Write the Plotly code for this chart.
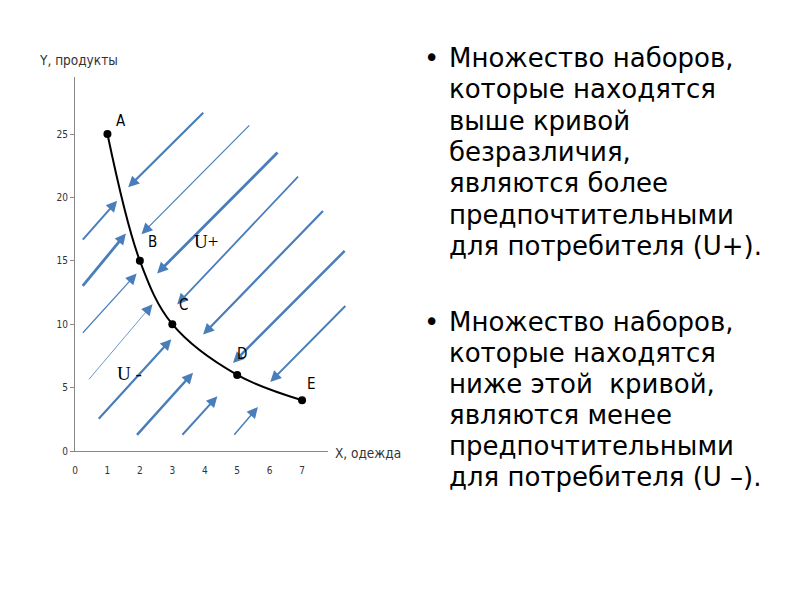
from plotly import graph_objects as go

# точки кривой безразличия
x_goods = [1, 2, 3, 5, 7]
y_goods = [25, 15, 10, 6, 4]
point_names = ['A', 'B', 'C', 'D', 'E']

# стрелки сверху (к кривой): хвост -> голова
up_tail_x = [4.0, 5.42, 6.29, 6.92, 7.69, 8.36, 8.38]
up_tail_y = [26.8, 25.8, 23.66, 21.76, 19.05, 15.9, 11.55]
up_head_x = [1.64, 2.05, 2.53, 3.15, 3.95, 4.87, 6.02]
up_head_y = [20.8, 17.1, 14.0, 11.55, 9.18, 6.95, 5.45]

# стрелки снизу (к кривой)
lo_tail_x = [0.2, 0.2, 0.2, 0.39, 0.69, 1.87, 3.27, 4.87]
lo_tail_y = [16.55, 12.9, 9.21, 5.53, 2.42, 1.16, 1.16, 1.16]
lo_head_x = [1.3, 1.57, 1.9, 2.39, 2.97, 3.64, 4.39, 5.64]
lo_head_y = [19.74, 17.16, 14.0, 11.58, 8.82, 6.18, 4.32, 3.47]

x_ticks = [0, 1, 2, 3, 4, 5, 6, 7]
y_ticks = [0, 5, 10, 15, 20, 25]

text_plus = ['Множество наборов,', 'которые находятся', 'выше кривой',
             'безразличия,', 'являются более', 'предпочтительными',
             'для потребителя (U+).']
text_minus = ['Множество наборов,', 'которые находятся', 'ниже этой  кривой,',
              'являются менее', 'предпочтительными', 'для потребителя (U –).']

# толщина стрелок (на картинке разная)
up_widths = [2.2, 1.2, 2.8, 1.8, 2.2, 2.5, 2.0]
lo_widths = [2.0, 2.8, 1.2, 0.8, 2.2, 2.5, 2.0, 1.5]

ARROW = '#4a7ebb'
NARROW = 'Liberation Sans Narrow, DejaVu Sans Condensed'
# границы области графика в пикселях картинки
L, R, T, B = 75, 328, 77, 451
OFF = 8  # отступ body в странице


def px(x):
    return (x - L) / (R - L)


def py(y):
    return (B - y) / (B - T)


fig = go.Figure()
fig.add_trace(go.Scatter(x=x_goods, y=y_goods, mode='lines+markers',
                         line=dict(color='black', width=2, shape='spline'),
                         marker=dict(color='black', size=8),
                         showlegend=False, hoverinfo='skip'))

ann = []
for tx, ty, hx, hy, w in zip(up_tail_x, up_tail_y, up_head_x, up_head_y, up_widths):
    ann.append(dict(x=hx, y=hy, ax=tx, ay=ty, xref='x', yref='y',
                    axref='x', ayref='y', text='', showarrow=True,
                    arrowhead=2, arrowsize=2.2 / w, arrowwidth=w, arrowcolor=ARROW))
for tx, ty, hx, hy, w in zip(lo_tail_x, lo_tail_y, lo_head_x, lo_head_y, lo_widths):
    ann.append(dict(x=hx, y=hy, ax=tx, ay=ty, xref='x', yref='y',
                    axref='x', ayref='y', text='', showarrow=True,
                    arrowhead=2, arrowsize=2.2 / w, arrowwidth=w, arrowcolor=ARROW))

# подписи точек
lab_dx = [0.42, 0.38, 0.35, 0.16, 0.28]
lab_dy = [1.05, 1.5, 1.5, 1.63, 1.3]
for n, xx, yy, dx, dy in zip(point_names, x_goods, y_goods, lab_dx, lab_dy):
    ann.append(dict(x=xx + dx, y=yy + dy, xref='x', yref='y', text=n, showarrow=False,
                    xanchor='center', yanchor='middle',
                    font=dict(family=NARROW, size=15, color='black')))
ann.append(dict(x=4.05, y=16.5, xref='x', yref='y', text='U+', showarrow=False,
                xanchor='center', yanchor='middle',
                font=dict(family='Liberation Serif', size=19, color='black')))
ann.append(dict(x=1.69, y=6.1, xref='x', yref='y', text='U -', showarrow=False,
                xanchor='center', yanchor='middle',
                font=dict(family='Liberation Serif', size=19, color='black')))

# названия осей
ann.append(dict(x=px(37), y=py(60), xref='paper', yref='paper', text='Y, продукты',
                xanchor='left', yanchor='middle', showarrow=False,
                font=dict(family=NARROW, size=13.5, color='#333333')))
ann.append(dict(x=px(333), y=py(453), xref='paper', yref='paper', text='X, одежда',
                xanchor='left', yanchor='middle', showarrow=False,
                font=dict(family=NARROW, size=13.5, color='#333333')))

# текст справа
tfont = dict(family='DejaVu Sans', size=26, color='black')
for i, line in enumerate(text_plus):
    ann.append(dict(x=px(447), y=py(58 + 31.3 * i), xref='paper', yref='paper',
                    text=line, xanchor='left', yanchor='middle', showarrow=False,
                    font=tfont))
for i, line in enumerate(text_minus):
    ann.append(dict(x=px(447), y=py(322 + 31.0 * i), xref='paper', yref='paper',
                    text=line, xanchor='left', yanchor='middle', showarrow=False,
                    font=tfont))
for yb in [58, 322]:
    ann.append(dict(x=px(431), y=py(yb), xref='paper', yref='paper', text='•',
                    xanchor='center', yanchor='middle', showarrow=False, font=tfont))

fig.update_layout(
    width=800, height=600,
    plot_bgcolor='white', paper_bgcolor='white',
    margin=dict(l=L - OFF, r=800 - R + OFF, t=T - OFF, b=600 - B + OFF),
    annotations=ann,
    xaxis=dict(range=[0, 7.8], tickvals=x_ticks, showgrid=False, zeroline=False,
               showline=True, linecolor='#888888', linewidth=1, ticks='',
               ticklabelstandoff=10,
               tickfont=dict(family=NARROW, size=10, color='#333333')),
    yaxis=dict(range=[0, 29.5], tickvals=y_ticks, showgrid=False, zeroline=False,
               showline=True, linecolor='#888888', linewidth=1, ticks='outside',
               ticklen=4, tickcolor='#888888',
               tickfont=dict(family=NARROW, size=10, color='#333333')),
)

fig.write_html("out.html")
